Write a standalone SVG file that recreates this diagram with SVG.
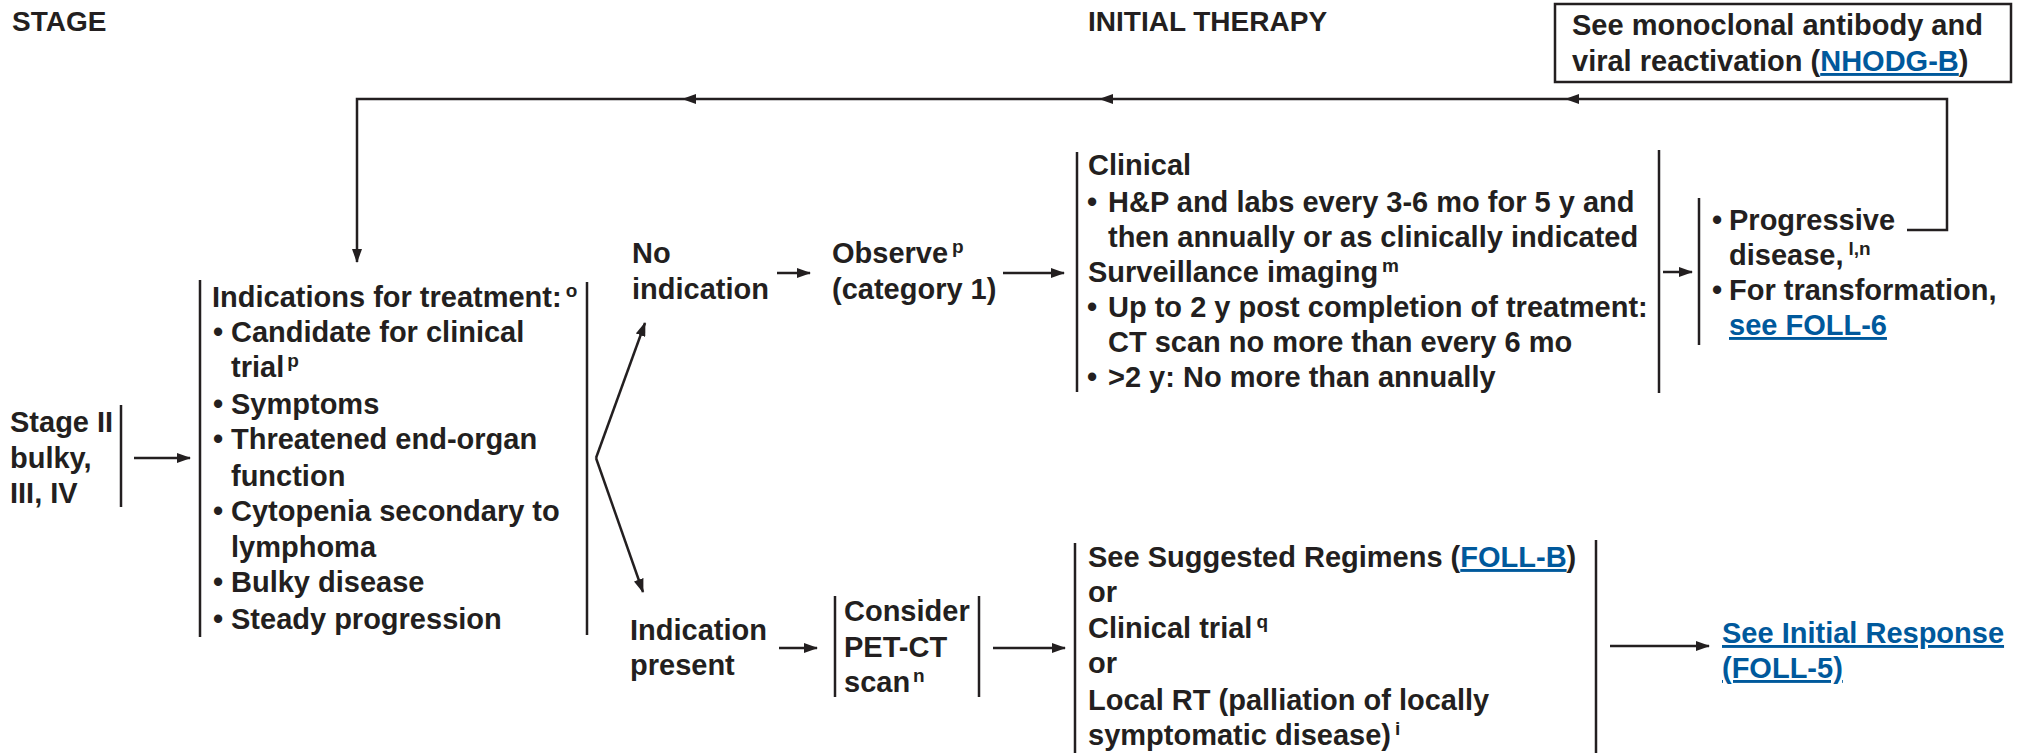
<svg xmlns="http://www.w3.org/2000/svg" width="2021" height="753" viewBox="0 0 2021 753">
<defs>
<style>
text{font-family:"Liberation Sans",Arial,sans-serif;font-weight:bold;font-size:29px;fill:#231f20}
.hd{font-size:28px}
.lk{fill:#00599c;text-decoration:underline}
.sp{font-size:19px}
.ln{stroke:#231f20;stroke-width:2.5;fill:none}
</style>
<marker id="ah" viewBox="0 0 14 10" refX="13" refY="5" markerWidth="14" markerHeight="10" markerUnits="userSpaceOnUse" orient="auto"><path d="M0,0 L14,5 L0,10 z" fill="#231f20"/></marker>
</defs>
<rect width="2021" height="753" fill="#fff"/>

<g id="headers">
<text class="hd" x="12" y="31">STAGE</text>
<text class="hd" x="1088" y="31">INITIAL THERAPY</text>
</g>

<g id="node-mab">
<rect x="1555" y="4" width="456" height="78" fill="none" stroke="#231f20" stroke-width="2.5"/>
<text x="1572" y="35">See monoclonal antibody and</text>
<text x="1572" y="71">viral reactivation (<tspan class="lk">NHODG-B</tspan>)</text>
</g>

<g id="node-stage">
<text x="10" y="432">Stage II</text>
<text x="10" y="468">bulky,</text>
<text x="10" y="503">III, IV</text>
<line class="ln" x1="121" y1="405" x2="121" y2="507"/>
</g>

<g id="node-indications">
<line class="ln" x1="200" y1="280" x2="200" y2="637"/>
<line class="ln" x1="587" y1="282" x2="587" y2="635"/>
<text x="212" y="307">Indications for treatment:<tspan class="sp" dx="4" dy="-10">o</tspan></text>
<text x="213" y="342">•</text><text x="231" y="342">Candidate for clinical</text>
<text x="231" y="377">trial<tspan class="sp" dx="3" dy="-10">p</tspan></text>
<text x="213" y="414">•</text><text x="231" y="414">Symptoms</text>
<text x="213" y="449">•</text><text x="231" y="449">Threatened end-organ</text>
<text x="231" y="486">function</text>
<text x="213" y="521">•</text><text x="231" y="521">Cytopenia secondary to</text>
<text x="231" y="557">lymphoma</text>
<text x="213" y="592">•</text><text x="231" y="592">Bulky disease</text>
<text x="213" y="629">•</text><text x="231" y="629">Steady progression</text>
</g>

<g id="node-no-indication">
<text x="632" y="263">No</text>
<text x="632" y="299">indication</text>
</g>

<g id="node-observe">
<text x="832" y="263">Observe<tspan class="sp" dx="4" dy="-10">p</tspan></text>
<text x="832" y="299">(category 1)</text>
</g>

<g id="node-clinical">
<line class="ln" x1="1077" y1="152" x2="1077" y2="392"/>
<line class="ln" x1="1659" y1="150" x2="1659" y2="393"/>
<text x="1088" y="175">Clinical</text>
<text x="1087" y="212">•</text><text x="1108" y="212">H&amp;P and labs every 3-6 mo for 5 y and</text>
<text x="1108" y="247">then annually or as clinically indicated</text>
<text x="1088" y="282">Surveillance imaging<tspan class="sp" dx="4" dy="-10">m</tspan></text>
<text x="1087" y="317">•</text><text x="1108" y="317">Up to 2 y post completion of treatment:</text>
<text x="1108" y="352">CT scan no more than every 6 mo</text>
<text x="1087" y="387">•</text><text x="1108" y="387">&gt;2 y: No more than annually</text>
</g>

<g id="node-progressive">
<line class="ln" x1="1699" y1="198" x2="1699" y2="345"/>
<text x="1712" y="230">•</text><text x="1729" y="230">Progressive</text>
<text x="1729" y="265">disease,<tspan class="sp" dx="5" dy="-10">l,n</tspan></text>
<text x="1712" y="300">•</text><text x="1729" y="300">For transformation,</text>
<text x="1729" y="335" class="lk">see FOLL-6</text>
</g>

<g id="node-indication-present">
<text x="630" y="640">Indication</text>
<text x="630" y="675">present</text>
</g>

<g id="node-petct">
<line class="ln" x1="835" y1="596" x2="835" y2="697"/>
<line class="ln" x1="979" y1="596" x2="979" y2="697"/>
<text x="844" y="621">Consider</text>
<text x="844" y="657">PET-CT</text>
<text x="844" y="692">scan<tspan class="sp" dx="3" dy="-10">n</tspan></text>
</g>

<g id="node-regimens">
<line class="ln" x1="1075" y1="543" x2="1075" y2="753"/>
<line class="ln" x1="1596" y1="540" x2="1596" y2="753"/>
<text x="1088" y="567">See Suggested Regimens (<tspan class="lk">FOLL-B</tspan>)</text>
<text x="1088" y="602">or</text>
<text x="1088" y="638">Clinical trial<tspan class="sp" dx="4" dy="-10">q</tspan></text>
<text x="1088" y="673">or</text>
<text x="1088" y="710">Local RT (palliation of locally</text>
<text x="1088" y="745">symptomatic disease)<tspan class="sp" dx="4" dy="-10">i</tspan></text>
</g>

<g id="node-initial-response">
<text x="1722" y="643" class="lk">See Initial Response</text>
<text x="1722" y="678" class="lk">(FOLL-5)</text>
</g>

<g id="connectors">
<path class="ln" d="M1907,230 H1947 V99 H1566" marker-end="url(#ah)"/>
<path class="ln" d="M1566,99 H1100" marker-end="url(#ah)"/>
<path class="ln" d="M1100,99 H683" marker-end="url(#ah)"/>
<path class="ln" d="M683,99 H357 V262" marker-end="url(#ah)"/>
<line class="ln" x1="134" y1="458" x2="190" y2="458" marker-end="url(#ah)"/>
<line class="ln" x1="596" y1="458" x2="645" y2="323" marker-end="url(#ah)"/>
<line class="ln" x1="596" y1="458" x2="643" y2="592" marker-end="url(#ah)"/>
<line class="ln" x1="777" y1="273" x2="810" y2="273" marker-end="url(#ah)"/>
<line class="ln" x1="1003" y1="273" x2="1064" y2="273" marker-end="url(#ah)"/>
<line class="ln" x1="1663" y1="272" x2="1692" y2="272" marker-end="url(#ah)"/>
<line class="ln" x1="779" y1="648" x2="817" y2="648" marker-end="url(#ah)"/>
<line class="ln" x1="993" y1="648" x2="1065" y2="648" marker-end="url(#ah)"/>
<line class="ln" x1="1610" y1="646" x2="1709" y2="646" marker-end="url(#ah)"/>
</g>
</svg>
